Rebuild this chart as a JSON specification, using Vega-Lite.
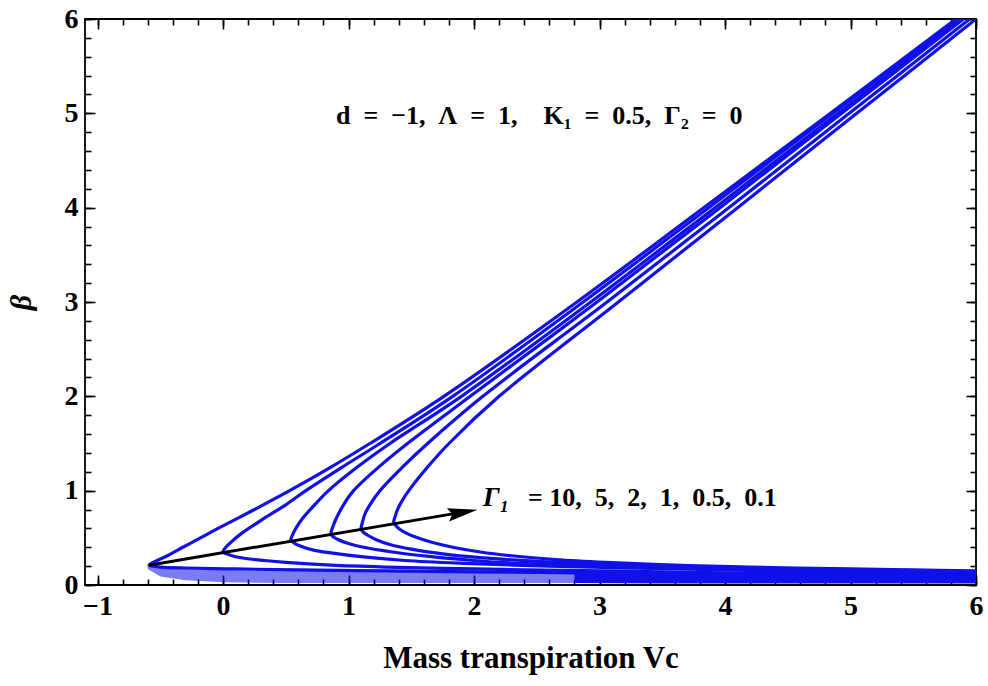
{
 "$schema": "https://vega.github.io/schema/vega-lite/v6.json",
 "width": 891, "height": 566,
 "autosize": {"type": "none"},
 "padding": {"left": 85, "top": 19, "right": 12, "bottom": 101},
 "background": "white",
 "config": {
  "view": {"stroke": "black", "strokeWidth": 1.8},
  "axis": {"grid": false, "domain": false, "tickColor": "black", "tickWidth": 1.6, "labelFont": "Liberation Serif", "labelFontWeight": "bold", "labelFontSize": 28, "labelColor": "black", "titleFont": "Liberation Serif", "titleFontWeight": "bold", "titleColor": "black", "labelFlush": false}
 },
 "resolve": {"axis": {"x": "independent", "y": "independent"}},
 "layer": [
  {
   "data": {"values": [
    {"vc": -0.6, "lo": 0.17, "hi": 0.2},
    {"vc": -0.5, "lo": 0.09, "hi": 0.18},
    {"vc": -0.3, "lo": 0.05, "hi": 0.17},
    {"vc": 0.0, "lo": 0.03, "hi": 0.16},
    {"vc": 0.5, "lo": 0.02, "hi": 0.15},
    {"vc": 1.0, "lo": 0.02, "hi": 0.145},
    {"vc": 1.5, "lo": 0.02, "hi": 0.14},
    {"vc": 2.0, "lo": 0.02, "hi": 0.135},
    {"vc": 2.5, "lo": 0.02, "hi": 0.13},
    {"vc": 3.0, "lo": 0.02, "hi": 0.125}
   ]},
   "mark": {"type": "area", "color": "#1010e8", "opacity": 0.55, "clip": true},
   "encoding": {
    "x": {"field": "vc", "type": "quantitative", "scale": {"domain": [-1.1, 6], "nice": false, "zero": false},
     "axis": {"orient": "bottom", "values": [-1, 0, 1, 2, 3, 4, 5, 6], "format": "d", "ticks": false, "labelPadding": 7, "title": "Mass transpiration Vc", "titleFontSize": 31, "titlePadding": 23}},
    "y": {"field": "lo", "type": "quantitative", "scale": {"domain": [0, 6], "nice": false, "zero": false},
     "axis": {"orient": "left", "values": [0, 1, 2, 3, 4, 5, 6], "format": "d", "ticks": false, "labelPadding": 7, "title": "β", "titleFontSize": 30, "titleFontStyle": "italic", "titlePadding": 28}},
    "y2": {"field": "hi"}
   }
  },
  {
   "data": {"values": [
    {"vc": 2.8, "lo": 0.02, "hi": 0.13},
    {"vc": 3.5, "lo": 0.015, "hi": 0.125},
    {"vc": 4.0, "lo": 0.015, "hi": 0.12},
    {"vc": 5.0, "lo": 0.015, "hi": 0.115},
    {"vc": 6.0, "lo": 0.015, "hi": 0.11}
   ]},
   "mark": {"type": "area", "color": "#1010e8", "opacity": 1, "clip": true},
   "encoding": {
    "x": {"field": "vc", "type": "quantitative",
     "axis": {"orient": "bottom", "values": [-1, 0, 1, 2, 3, 4, 5, 6], "labels": false, "tickSize": -10, "title": null}},
    "y": {"field": "lo", "type": "quantitative",
     "axis": {"orient": "left", "values": [0, 1, 2, 3, 4, 5, 6], "labels": false, "tickSize": -10, "title": null}},
    "y2": {"field": "hi"}
   }
  },
  {
   "data": {"values": [
    {"g": "10", "b": 0.09, "vc": 6.0}, {"g": "10", "b": 0.10, "vc": 5.1}, {"g": "10", "b": 0.11, "vc": 4.2}, {"g": "10", "b": 0.12, "vc": 3.4}, {"g": "10", "b": 0.13, "vc": 2.7}, {"g": "10", "b": 0.14, "vc": 2.0}, {"g": "10", "b": 0.15, "vc": 1.3}, {"g": "10", "b": 0.16, "vc": 0.6}, {"g": "10", "b": 0.17, "vc": 0.1}, {"g": "10", "b": 0.18, "vc": -0.3}, {"g": "10", "b": 0.19, "vc": -0.5}, {"g": "10", "b": 0.2, "vc": -0.56}, {"g": "10", "b": 0.21, "vc": -0.59}, {"g": "10", "b": 0.23, "vc": -0.57}, {"g": "10", "b": 0.25, "vc": -0.54}, {"g": "10", "b": 0.3, "vc": -0.46}, {"g": "10", "b": 0.4, "vc": -0.32}, {"g": "10", "b": 0.5, "vc": -0.18}, {"g": "10", "b": 0.6, "vc": -0.04}, {"g": "10", "b": 0.8, "vc": 0.25}, {"g": "10", "b": 1.0, "vc": 0.53}, {"g": "10", "b": 1.25, "vc": 0.86}, {"g": "10", "b": 1.5, "vc": 1.17}, {"g": "10", "b": 2.0, "vc": 1.76}, {"g": "10", "b": 3.0, "vc": 2.82}, {"g": "10", "b": 4.0, "vc": 3.83}, {"g": "10", "b": 5.0, "vc": 4.84}, {"g": "10", "b": 6.0, "vc": 5.84},
    {"g": "5", "b": 0.105, "vc": 6.0}, {"g": "5", "b": 0.11, "vc": 5.6}, {"g": "5", "b": 0.12, "vc": 4.8}, {"g": "5", "b": 0.13, "vc": 4.0}, {"g": "5", "b": 0.14, "vc": 3.5}, {"g": "5", "b": 0.155, "vc": 2.7}, {"g": "5", "b": 0.17, "vc": 2.0}, {"g": "5", "b": 0.19, "vc": 1.3}, {"g": "5", "b": 0.21, "vc": 0.86}, {"g": "5", "b": 0.24, "vc": 0.5}, {"g": "5", "b": 0.27, "vc": 0.25}, {"g": "5", "b": 0.30, "vc": 0.1}, {"g": "5", "b": 0.33, "vc": 0.03}, {"g": "5", "b": 0.35, "vc": 0.0}, {"g": "5", "b": 0.38, "vc": 0.01}, {"g": "5", "b": 0.45, "vc": 0.06}, {"g": "5", "b": 0.55, "vc": 0.15}, {"g": "5", "b": 0.7, "vc": 0.32}, {"g": "5", "b": 0.85, "vc": 0.5}, {"g": "5", "b": 1.0, "vc": 0.66}, {"g": "5", "b": 1.25, "vc": 0.95}, {"g": "5", "b": 1.5, "vc": 1.25}, {"g": "5", "b": 2.0, "vc": 1.83}, {"g": "5", "b": 3.0, "vc": 2.87}, {"g": "5", "b": 4.0, "vc": 3.87}, {"g": "5", "b": 5.0, "vc": 4.86}, {"g": "5", "b": 6.0, "vc": 5.86},
    {"g": "2", "b": 0.115, "vc": 6.0}, {"g": "2", "b": 0.125, "vc": 5.6}, {"g": "2", "b": 0.14, "vc": 4.9}, {"g": "2", "b": 0.16, "vc": 4.0}, {"g": "2", "b": 0.18, "vc": 3.2}, {"g": "2", "b": 0.20, "vc": 2.6}, {"g": "2", "b": 0.23, "vc": 1.92}, {"g": "2", "b": 0.26, "vc": 1.45}, {"g": "2", "b": 0.30, "vc": 1.1}, {"g": "2", "b": 0.34, "vc": 0.86}, {"g": "2", "b": 0.37, "vc": 0.72}, {"g": "2", "b": 0.41, "vc": 0.62}, {"g": "2", "b": 0.45, "vc": 0.56}, {"g": "2", "b": 0.48, "vc": 0.54}, {"g": "2", "b": 0.52, "vc": 0.55}, {"g": "2", "b": 0.6, "vc": 0.58}, {"g": "2", "b": 0.7, "vc": 0.63}, {"g": "2", "b": 0.85, "vc": 0.73}, {"g": "2", "b": 1.0, "vc": 0.84}, {"g": "2", "b": 1.25, "vc": 1.07}, {"g": "2", "b": 1.5, "vc": 1.33}, {"g": "2", "b": 2.0, "vc": 1.9}, {"g": "2", "b": 3.0, "vc": 2.93}, {"g": "2", "b": 4.0, "vc": 3.92}, {"g": "2", "b": 5.0, "vc": 4.9}, {"g": "2", "b": 6.0, "vc": 5.88},
    {"g": "1", "b": 0.125, "vc": 6.0}, {"g": "1", "b": 0.14, "vc": 5.4}, {"g": "1", "b": 0.155, "vc": 4.8}, {"g": "1", "b": 0.17, "vc": 4.0}, {"g": "1", "b": 0.19, "vc": 3.4}, {"g": "1", "b": 0.21, "vc": 2.8}, {"g": "1", "b": 0.24, "vc": 2.19}, {"g": "1", "b": 0.26, "vc": 2.0}, {"g": "1", "b": 0.30, "vc": 1.66}, {"g": "1", "b": 0.35, "vc": 1.35}, {"g": "1", "b": 0.40, "vc": 1.12}, {"g": "1", "b": 0.44, "vc": 1.0}, {"g": "1", "b": 0.48, "vc": 0.92}, {"g": "1", "b": 0.52, "vc": 0.87}, {"g": "1", "b": 0.55, "vc": 0.86}, {"g": "1", "b": 0.6, "vc": 0.87}, {"g": "1", "b": 0.7, "vc": 0.9}, {"g": "1", "b": 0.85, "vc": 0.96}, {"g": "1", "b": 1.0, "vc": 1.04}, {"g": "1", "b": 1.25, "vc": 1.24}, {"g": "1", "b": 1.5, "vc": 1.47}, {"g": "1", "b": 2.0, "vc": 1.97}, {"g": "1", "b": 3.0, "vc": 2.98}, {"g": "1", "b": 4.0, "vc": 3.96}, {"g": "1", "b": 5.0, "vc": 4.93}, {"g": "1", "b": 6.0, "vc": 5.9},
    {"g": "0.5", "b": 0.135, "vc": 6.0}, {"g": "0.5", "b": 0.145, "vc": 5.5}, {"g": "0.5", "b": 0.16, "vc": 4.9}, {"g": "0.5", "b": 0.18, "vc": 4.1}, {"g": "0.5", "b": 0.2, "vc": 3.5}, {"g": "0.5", "b": 0.22, "vc": 3.0}, {"g": "0.5", "b": 0.25, "vc": 2.5}, {"g": "0.5", "b": 0.29, "vc": 2.05}, {"g": "0.5", "b": 0.33, "vc": 1.75}, {"g": "0.5", "b": 0.38, "vc": 1.5}, {"g": "0.5", "b": 0.43, "vc": 1.33}, {"g": "0.5", "b": 0.48, "vc": 1.22}, {"g": "0.5", "b": 0.53, "vc": 1.15}, {"g": "0.5", "b": 0.57, "vc": 1.11}, {"g": "0.5", "b": 0.60, "vc": 1.10}, {"g": "0.5", "b": 0.66, "vc": 1.11}, {"g": "0.5", "b": 0.75, "vc": 1.13}, {"g": "0.5", "b": 0.85, "vc": 1.17}, {"g": "0.5", "b": 1.0, "vc": 1.25}, {"g": "0.5", "b": 1.25, "vc": 1.43}, {"g": "0.5", "b": 1.5, "vc": 1.63}, {"g": "0.5", "b": 2.0, "vc": 2.07}, {"g": "0.5", "b": 3.0, "vc": 3.06}, {"g": "0.5", "b": 4.0, "vc": 4.03}, {"g": "0.5", "b": 5.0, "vc": 4.99}, {"g": "0.5", "b": 6.0, "vc": 5.95},
    {"g": "0.1", "b": 0.15, "vc": 6.0}, {"g": "0.1", "b": 0.16, "vc": 5.5}, {"g": "0.1", "b": 0.17, "vc": 5.0}, {"g": "0.1", "b": 0.19, "vc": 4.2}, {"g": "0.1", "b": 0.21, "vc": 3.6}, {"g": "0.1", "b": 0.24, "vc": 3.05}, {"g": "0.1", "b": 0.27, "vc": 2.65}, {"g": "0.1", "b": 0.31, "vc": 2.3}, {"g": "0.1", "b": 0.35, "vc": 2.05}, {"g": "0.1", "b": 0.4, "vc": 1.83}, {"g": "0.1", "b": 0.45, "vc": 1.67}, {"g": "0.1", "b": 0.5, "vc": 1.55}, {"g": "0.1", "b": 0.55, "vc": 1.46}, {"g": "0.1", "b": 0.6, "vc": 1.4}, {"g": "0.1", "b": 0.64, "vc": 1.37}, {"g": "0.1", "b": 0.67, "vc": 1.36}, {"g": "0.1", "b": 0.72, "vc": 1.37}, {"g": "0.1", "b": 0.8, "vc": 1.39}, {"g": "0.1", "b": 0.9, "vc": 1.43}, {"g": "0.1", "b": 1.0, "vc": 1.48}, {"g": "0.1", "b": 1.25, "vc": 1.63}, {"g": "0.1", "b": 1.5, "vc": 1.8}, {"g": "0.1", "b": 2.0, "vc": 2.2}, {"g": "0.1", "b": 3.0, "vc": 3.15}, {"g": "0.1", "b": 4.0, "vc": 4.1}, {"g": "0.1", "b": 5.0, "vc": 5.05}, {"g": "0.1", "b": 6.0, "vc": 6.0}
   ]},
   "mark": {"type": "line", "color": "#1010e8", "strokeWidth": 3.2, "interpolate": "catmull-rom", "clip": true},
   "encoding": {
    "x": {"field": "vc", "type": "quantitative",
     "axis": {"orient": "bottom", "values": [-1, -0.8, -0.6, -0.4, -0.2, 0, 0.2, 0.4, 0.6, 0.8, 1, 1.2, 1.4, 1.6, 1.8, 2, 2.2, 2.4, 2.6, 2.8, 3, 3.2, 3.4, 3.6, 3.8, 4, 4.2, 4.4, 4.6, 4.8, 5, 5.2, 5.4, 5.6, 5.8, 6], "labels": false, "tickSize": -6, "title": null}},
    "y": {"field": "b", "type": "quantitative",
     "axis": {"orient": "left", "values": [0, 0.2, 0.4, 0.6, 0.8, 1, 1.2, 1.4, 1.6, 1.8, 2, 2.2, 2.4, 2.6, 2.8, 3, 3.2, 3.4, 3.6, 3.8, 4, 4.2, 4.4, 4.6, 4.8, 5, 5.2, 5.4, 5.6, 5.8, 6], "labels": false, "tickSize": -6, "title": null}},
    "detail": {"field": "g"},
    "order": {"field": "b", "type": "quantitative"}
   }
  },
  {
   "data": {"values": [{"vc": -0.59, "b": 0.21}, {"vc": 1.9, "b": 0.77}]},
   "mark": {"type": "line", "color": "black", "strokeWidth": 3},
   "encoding": {
    "x": {"field": "vc", "type": "quantitative",
     "axis": {"orient": "top", "values": [-1, 0, 1, 2, 3, 4, 5, 6], "labels": false, "tickSize": -10, "title": null}},
    "y": {"field": "b", "type": "quantitative",
     "axis": {"orient": "right", "values": [0, 1, 2, 3, 4, 5, 6], "labels": false, "tickSize": -10, "title": null}}
   }
  },
  {
   "data": {"values": [{"vc": 1.91, "b": 0.77}]},
   "mark": {"type": "point", "shape": "M-1,-0.45L1,0L-1,0.45L-0.7,0Z", "filled": true, "color": "black", "opacity": 1, "size": 900, "angle": 350.4},
   "encoding": {
    "x": {"field": "vc", "type": "quantitative",
     "axis": {"orient": "top", "values": [-1, -0.8, -0.6, -0.4, -0.2, 0, 0.2, 0.4, 0.6, 0.8, 1, 1.2, 1.4, 1.6, 1.8, 2, 2.2, 2.4, 2.6, 2.8, 3, 3.2, 3.4, 3.6, 3.8, 4, 4.2, 4.4, 4.6, 4.8, 5, 5.2, 5.4, 5.6, 5.8, 6], "labels": false, "tickSize": -6, "title": null}},
    "y": {"field": "b", "type": "quantitative",
     "axis": {"orient": "right", "values": [0, 0.2, 0.4, 0.6, 0.8, 1, 1.2, 1.4, 1.6, 1.8, 2, 2.2, 2.4, 2.6, 2.8, 3, 3.2, 3.4, 3.6, 3.8, 4, 4.2, 4.4, 4.6, 4.8, 5, 5.2, 5.4, 5.6, 5.8, 6], "labels": false, "tickSize": -6, "title": null}}
   }
  },
  {
   "data": {"values": [{"t": "d\u2002=\u2002−1,\u2002Λ\u2002=\u20021,\u2002\u2002K₁\u2002=\u20020.5,\u2002Γ₂\u2002=\u20020"}]},
   "mark": {"type": "text", "font": "Liberation Serif", "fontWeight": "bold", "fontSize": 26, "align": "left", "baseline": "middle", "color": "black"},
   "encoding": {
    "x": {"datum": 0.9, "type": "quantitative", "axis": null},
    "y": {"datum": 4.97, "type": "quantitative", "axis": null},
    "text": {"field": "t"}
   }
  },
  {
   "data": {"values": [{"t": "Γ₁"}]},
   "mark": {"type": "text", "font": "Liberation Serif", "fontWeight": "bold", "fontStyle": "italic", "fontSize": 28, "align": "left", "baseline": "middle", "color": "black"},
   "encoding": {
    "x": {"datum": 2.07, "type": "quantitative", "axis": null},
    "y": {"datum": 0.92, "type": "quantitative", "axis": null},
    "text": {"field": "t"}
   }
  },
  {
   "data": {"values": [{"t": "= 10,\u20025,\u20022,\u20021,\u20020.5,\u20020.1"}]},
   "mark": {"type": "text", "font": "Liberation Serif", "fontWeight": "bold", "fontSize": 26, "align": "left", "baseline": "middle", "color": "black"},
   "encoding": {
    "x": {"datum": 2.43, "type": "quantitative", "axis": null},
    "y": {"datum": 0.92, "type": "quantitative", "axis": null},
    "text": {"field": "t"}
   }
  }
 ]
}
